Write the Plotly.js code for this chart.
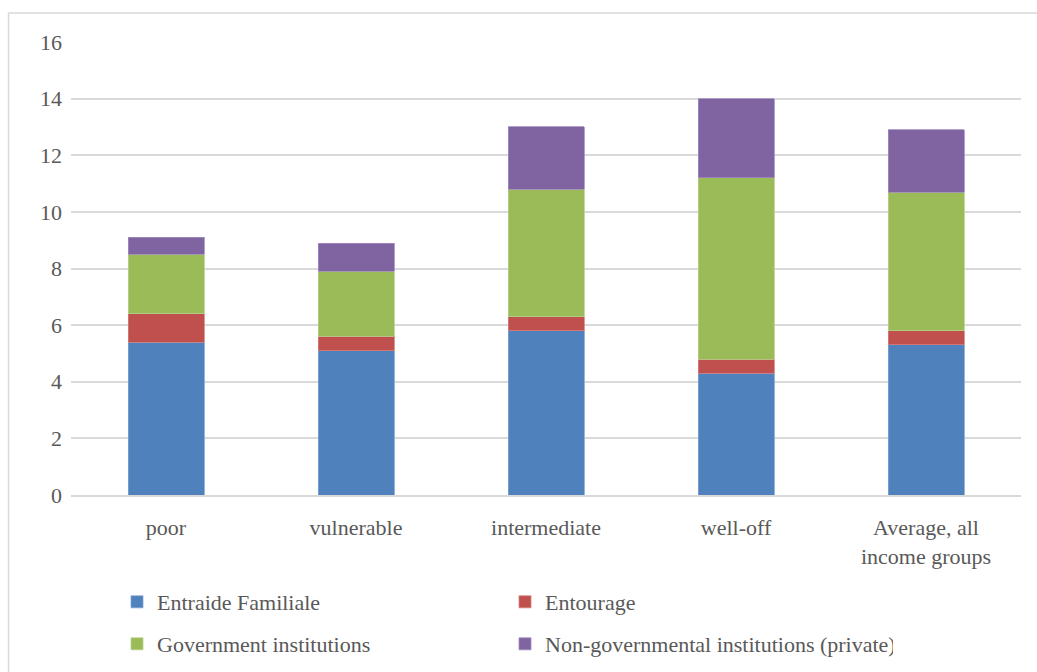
<!DOCTYPE html>
<html>
<head>
<meta charset="utf-8">
<script src="https://cdn.plot.ly/plotly-3.0.1.min.js"></script>
<style>html,body{margin:0;padding:0;background:#fff;}#chart{width:1037px;height:672px;}</style>
</head>
<body>
<div id="chart"></div>
<script>
const categories = ["poor", "vulnerable", "intermediate", "well-off", "Average, all<br>income groups"];
const entraideFamiliale = [5.4, 5.1, 5.8, 4.3, 5.3];
const entourage = [1.0, 0.5, 0.5, 0.5, 0.5];
const governmentInstitutions = [2.1, 2.3, 4.5, 6.4, 4.9];
const nonGovernmentalInstitutions = [0.6, 1.0, 2.2, 2.8, 2.2];
const seriesNames = ["Entraide Familiale", "Entourage", "Government institutions", "Non-governmental institutions (private)"];
const yTicks = [0, 2, 4, 6, 8, 10, 12, 14, 16];

const colors = ["#4F81BD", "#C0504D", "#9BBB59", "#8064A2"];
const lineColors = ["#7FA3D1", "#D4807E", "#B9D08B", "#A08CBF"];
const seriesValues = [entraideFamiliale, entourage, governmentInstitutions, nonGovernmentalInstitutions];
const legendIds = ["legend", "legend", "legend2", "legend2"];

const font = {family: "Liberation Serif", size: 22, color: "#595959"};

const traces = seriesValues.map((vals, i) => ({
  type: "bar",
  name: seriesNames[i],
  x: categories,
  y: vals,
  marker: {color: colors[i], line: {color: lineColors[i], width: 0.8}},
  legend: legendIds[i],
  hoverinfo: "x+y+name"
}));

// plot area: x 71..1021, y 42..495
const L = 71, R = 1021, T = 42, B = 495;
const W = 1037, H = 672;
const px = v => (v - L) / (R - L);
const py = v => (B - v) / (B - T);

const layout = {
  width: W, height: H,
  barmode: "stack",
  bargap: 0.6,
  paper_bgcolor: "#ffffff",
  plot_bgcolor: "#ffffff",
  margin: {l: L, r: W - R, t: T, b: H - B, pad: 0},
  font: font,
  showlegend: true,
  xaxis: {
    type: "category",
    showgrid: false,
    showline: true,
    linecolor: "#d9d9d9",
    linewidth: 1.5,
    ticks: "",
    tickfont: font,
    ticklabelstandoff: 12,
    fixedrange: true
  },
  yaxis: {
    range: [0, 16],
    tickvals: yTicks,
    ticktext: yTicks.map(String),
    showgrid: true,
    gridcolor: "#d9d9d9",
    gridwidth: 1.5,
    zeroline: false,
    showline: false,
    ticks: "",
    tickfont: font,
    ticklabelstandoff: 8,
    fixedrange: true
  },
  legend: {
    orientation: "h",
    xref: "container", yref: "container",
    x: 117 / W, y: 1 - 581 / H,
    xanchor: "left", yanchor: "top",
    entrywidth: 343, entrywidthmode: "pixels",
    font: font,
    bgcolor: "rgba(0,0,0,0)",
    traceorder: "normal"
  },
  legend2: {
    orientation: "h",
    xref: "container", yref: "container",
    x: 117 / W, y: 1 - 623 / H,
    xanchor: "left", yanchor: "top",
    entrywidth: 343, entrywidthmode: "pixels",
    font: font,
    bgcolor: "rgba(0,0,0,0)",
    traceorder: "normal"
  },
  shapes: [
    {type: "line", xref: "paper", yref: "paper", x0: px(8.5), x1: px(1037), y0: py(13), y1: py(13), line: {color: "#d9d9d9", width: 1.5}},
    {type: "line", xref: "paper", yref: "paper", x0: px(8.5), x1: px(8.5), y0: py(13), y1: py(672), line: {color: "#d9d9d9", width: 1.5}}
  ]
};

Plotly.newPlot("chart", traces, layout, {displayModeBar: false, staticPlot: false});
</script>
</body>
</html>
